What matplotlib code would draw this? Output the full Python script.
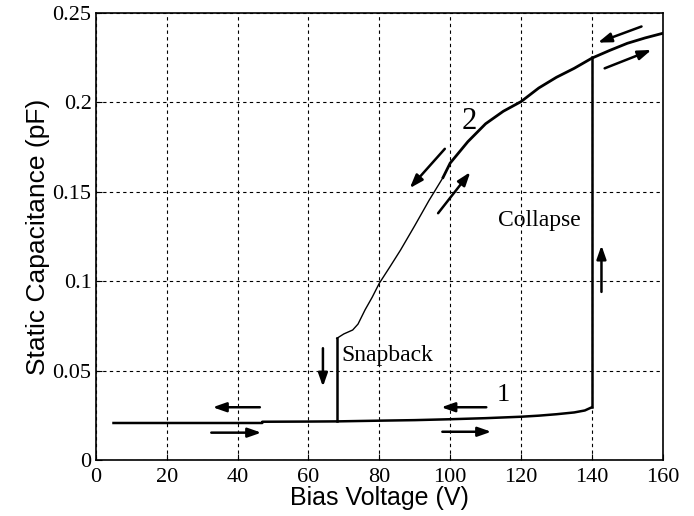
import numpy as np
import matplotlib.pyplot as plt

# lower branch (state 1)
v_low = [5, 47, 47, 60, 68, 80, 90, 100, 110, 120, 125, 130, 135, 138, 140]
c_low = [0.0207, 0.0207, 0.0214, 0.0215, 0.0216, 0.022, 0.0223, 0.0228, 0.0234, 0.0242, 0.0248, 0.0256, 0.0266, 0.0277, 0.0295]

# snapback / collapse jumps
v_snap = [68, 68]
c_snap = [0.0216, 0.068]
v_coll = [140, 140]
c_coll = [0.0295, 0.2256]

# upper branch (state 2), thin part then thick part
v_up1 = [68, 70, 72.5, 74, 76, 78, 80, 83, 86, 90, 94, 98]
c_up1 = [0.068, 0.0705, 0.0727, 0.076, 0.084, 0.091, 0.0988, 0.108, 0.1174, 0.131, 0.145, 0.158]
v_up2 = [98, 100, 105, 110, 115, 120, 125, 130, 135, 140, 145, 150, 155, 160]
c_up2 = [0.158, 0.166, 0.178, 0.188, 0.195, 0.2004, 0.208, 0.214, 0.219, 0.2247, 0.229, 0.233, 0.236, 0.2386]

# arrows: (x_start, y_start, x_end, y_end)
arrows = [
    (46.3, 0.0295, 33.0, 0.0295),
    (32.6, 0.0153, 46.7, 0.0153),
    (110.2, 0.0295, 97.5, 0.0295),
    (97.8, 0.0158, 111.6, 0.0158),
    (64.1, 0.0625, 64.1, 0.041),
    (142.7, 0.094, 142.7, 0.120),
    (98.5, 0.174, 88.6, 0.152),
    (96.6, 0.138, 105.7, 0.161),
    (154.0, 0.2424, 141.7, 0.2334),
    (143.6, 0.219, 156.8, 0.2293),
]

fig = plt.figure(figsize=(6.94, 5.16), dpi=100)
ax = fig.add_axes([0.138, 0.1085, 0.817, 0.8665])

ax.plot(v_low, c_low, color='k', lw=1.8)
ax.plot(v_snap, c_snap, color='k', lw=1.8)
ax.plot(v_coll, c_coll, color='k', lw=1.8)
ax.plot(v_up1, c_up1, color='k', lw=1.0)
ax.plot(v_up2, c_up2, color='k', lw=2.0)

for x0, y0, x1, y1 in arrows:
    ax.annotate('', xy=(x1, y1), xytext=(x0, y0),
                arrowprops=dict(arrowstyle='-|>,head_length=0.8,head_width=0.28',
                                color='k', lw=1.8, shrinkA=0, shrinkB=0))

serif = 'Liberation Serif'
ax.text(105.5, 0.189, '2', fontsize=22, family=serif, ha='center', va='center')
ax.text(114.9, 0.0364, '1', fontsize=19, family=serif, ha='center', va='center')
ax.text(125.3, 0.134, 'Collapse', fontsize=17, family=serif, ha='center', va='center')
ax.text(69.3, 0.0587, 'Snapback', fontsize=17, family=serif, ha='left', va='center')

ax.set_xlim(0, 160)
ax.set_ylim(0, 0.25)
ax.set_xticks(np.arange(0, 161, 20))
ax.set_yticks([0, 0.05, 0.1, 0.15, 0.2, 0.25])
ax.set_yticklabels(['0', '0.05', '0.1', '0.15', '0.2', '0.25'])
ax.grid(True, color='k', linestyle=(0, (3, 3)), linewidth=0.8)
ax.tick_params(direction='in', length=4, labelsize=16, pad=3)
ax.tick_params(axis='x', pad=6)
for lab in ax.get_xticklabels() + ax.get_yticklabels():
    lab.set_family(serif)
for s in ax.spines.values():
    s.set_linewidth(1.2)

ax.set_xlabel('Bias Voltage (V)', fontsize=18, family='Liberation Sans', labelpad=-1)
ax.set_ylabel('Static Capacitance (pF)', fontsize=19, family='Liberation Sans', labelpad=2)

fig.savefig('out.png', dpi=100)
